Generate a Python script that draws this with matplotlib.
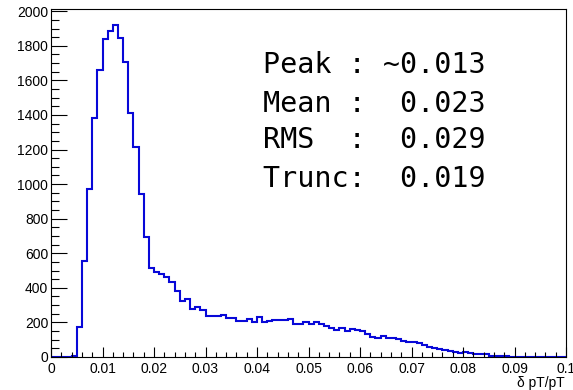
import numpy as np
import matplotlib
matplotlib.use("Agg")
from matplotlib import pyplot as plt
from matplotlib.ticker import MultipleLocator

# histogram: 100 bins over [0, 0.1]
x_lo, x_hi, n_bins = 0.0, 0.1, 100
counts = [
    0, 0, 0, 0, 5, 173, 557, 970, 1384, 1658,
    1841, 1883, 1921, 1846, 1708, 1413, 1217, 944, 695, 513,
    494, 479, 460, 432, 380, 326, 334, 280, 287, 271,
    238, 238, 238, 242, 223, 223, 209, 209, 217, 200,
    232, 200, 209, 213, 213, 213, 222, 193, 188, 205,
    188, 200, 190, 178, 169, 156, 165, 150, 161, 156,
    150, 133, 117, 111, 123, 108, 111, 102, 90, 88,
    84, 79, 69, 60, 50, 45, 40, 35, 30, 25,
    27, 21, 20, 17, 15, 8, 7, 4, 3, 2,
    2, 1, 1, 0, 0, 0, 0, 0, 0, 0,
]
stat_lines = [
    "Peak : ~0.013",
    "Mean :  0.023",
    "RMS  :  0.029",
    "Trunc:  0.019",
]
x_title = "δ pT/pT"

W, H = 573, 390
fig = plt.figure(figsize=(W / 100, H / 100), dpi=100)
ax = fig.add_axes([51 / W, 1 - 357 / H, (566 - 51) / W, (357 - 9.5) / H])

edges = np.linspace(x_lo, x_hi, n_bins + 1)
ax.stairs(counts, edges, baseline=0, color="#0808d8", lw=1.5)

ax.set_xlim(x_lo, x_hi)
ax.set_ylim(0, 2010)

ax.xaxis.set_minor_locator(MultipleLocator(0.002))
ax.yaxis.set_major_locator(MultipleLocator(200))
ax.yaxis.set_minor_locator(MultipleLocator(50))
ax.set_xticks(np.linspace(0, 0.1, 11))
ax.set_xticklabels(["0", "0.01", "0.02", "0.03", "0.04", "0.05", "0.06",
                    "0.07", "0.08", "0.09", "0.1"])

font = "Liberation Sans"
ax.tick_params(axis="both", which="both", direction="in", top=False, right=False,
               labelsize=10, width=0.8, colors="black")
ax.tick_params(axis="x", which="major", length=7.2, pad=3.5)
ax.tick_params(axis="x", which="minor", length=3.6)
ax.tick_params(axis="y", which="major", length=11.5, pad=2)
ax.tick_params(axis="y", which="minor", length=5.8)
for lab in ax.get_xticklabels() + ax.get_yticklabels():
    lab.set_family(font)

for s in ax.spines.values():
    s.set_linewidth(0.8)
    s.set_color("black")

fig.text(565 / W, 1 - 387 / H, x_title, ha="right", va="baseline",
         fontsize=10, family=font)

# stats box text
baselines = [73, 111.5, 148.5, 186.5]
for txt, yb in zip(stat_lines, baselines):
    fig.text(263 / W, 1 - yb / H, txt, ha="left", va="baseline",
             fontsize=20.4, family="DejaVu Sans Mono")

fig.savefig("out.png", dpi=100)
